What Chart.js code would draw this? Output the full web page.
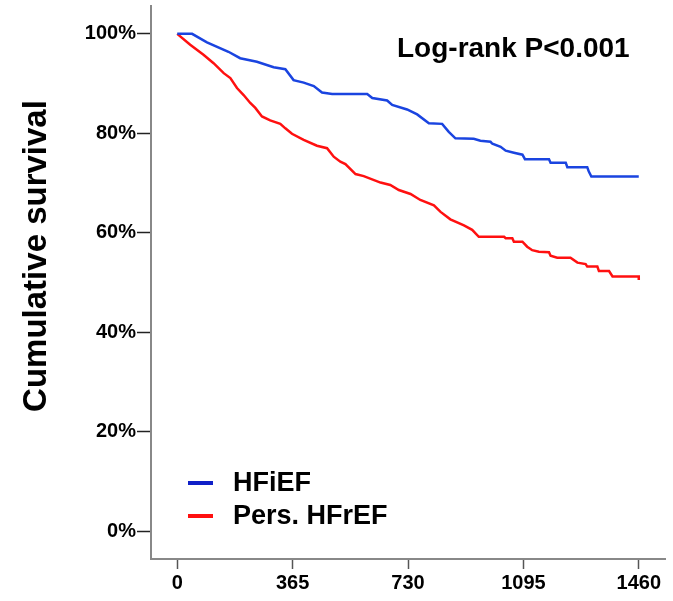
<!DOCTYPE html>
<html>
<head>
<meta charset="utf-8">
<script src="https://cdn.jsdelivr.net/npm/chart.js@4/dist/chart.umd.min.js"></script>
<style>
html,body{margin:0;padding:0;background:#fff;}
canvas{display:block;}
</style>
</head>
<body>
<canvas id="c" width="673" height="601"></canvas>
<script>
// ---- data ----
const seriesNames = ["HFiEF", "Pers. HFrEF"];
const xTicks = [0, 365, 730, 1095, 1460];
const yTicks = [0, 20, 40, 60, 80, 100];
const yTitle = "Cumulative survival";
const annotationText = "Log-rank P<0.001";

const hfiefDays = [0,47,94,162,199,252,305,342,368,400,432,458,490,601,617,664,680,727,759,796,838,859,880,938,959,991,997,1023,1039,1065,1092,1100,1176,1181,1229,1234,1297,1302,1310,1460];
const hfiefSurv = [100,100,98.3,96.4,95.1,94.4,93.3,92.9,90.7,90.2,89.5,88.2,87.9,87.9,87.1,86.6,85.7,84.8,83.8,82.0,81.9,80.3,79.0,78.9,78.5,78.3,77.9,77.3,76.5,76.1,75.7,74.8,74.8,74.1,74.1,73.2,73.2,72.3,71.3,71.3];

const hfrefDays = [0,41,83,115,147,168,189,210,231,247,268,294,326,342,363,400,442,474,495,516,532,564,590,643,674,701,738,769,812,833,864,907,933,954,1034,1039,1060,1065,1092,1107,1123,1144,1176,1181,1202,1244,1266,1292,1297,1329,1334,1366,1377,1460,1460];
const hfrefSurv = [100,97.8,95.8,94.1,92.1,91.1,89.1,87.7,86.1,85.1,83.4,82.6,81.9,81.0,79.9,78.7,77.5,77.0,75.3,74.3,73.8,71.8,71.4,70.1,69.6,68.6,67.8,66.6,65.5,64.2,62.7,61.5,60.6,59.2,59.2,58.9,58.9,58.2,58.2,57.2,56.5,56.2,56.1,55.4,55.0,55.0,54.0,53.7,53.2,53.2,52.3,52.3,51.2,51.2,50.5];

const BLUE = '#1a44e0';
const RED = '#ff1010';
const FONT = '"Liberation Sans", Arial, sans-serif';

function pts(xs, ys){ return xs.map((x,i)=>({x:x, y:ys[i]})); }

const extraText = {
  id: 'extraText',
  afterDraw(chart){
    const ctx = chart.ctx;
    ctx.save();
    ctx.fillStyle = '#000';
    // y title
    ctx.font = 'bold 33px ' + FONT;
    ctx.translate(37, 256);
    ctx.rotate(-Math.PI/2);
    ctx.textAlign = 'center';
    ctx.textBaseline = 'middle';
    ctx.fillText(yTitle, 0, 0);
    ctx.restore();

    ctx.save();
    ctx.fillStyle = '#000';
    ctx.font = 'bold 28px ' + FONT;
    ctx.textAlign = 'left';
    ctx.textBaseline = 'alphabetic';
    ctx.fillText(annotationText, 397, 57);

    // legend
    const items = [
      {name: seriesNames[0], color: '#1020c8', y: 483},
      {name: seriesNames[1], color: RED, y: 516}
    ];
    ctx.font = 'bold 27px ' + FONT;
    items.forEach(it=>{
      ctx.strokeStyle = it.color;
      ctx.lineWidth = 4;
      ctx.beginPath();
      ctx.moveTo(188, it.y);
      ctx.lineTo(213, it.y);
      ctx.stroke();
      ctx.fillStyle = '#000';
      ctx.textBaseline = 'middle';
      ctx.fillText(it.name, 233, it.y + 1);
    });
    ctx.restore();
  }
};

new Chart(document.getElementById('c'), {
  type: 'line',
  data: {
    datasets: [
      {label: seriesNames[0], data: pts(hfiefDays, hfiefSurv), borderColor: BLUE, borderWidth: 2.5, pointRadius: 0, tension: 0, fill: false},
      {label: seriesNames[1], data: pts(hfrefDays, hfrefSurv), borderColor: RED, borderWidth: 2.5, pointRadius: 0, tension: 0, fill: false}
    ]
  },
  options: {
    responsive: false,
    animation: false,
    devicePixelRatio: 1,
    layout: {padding: {left: 0, top: 6, right: 8, bottom: 0}},
    plugins: {legend: {display: false}, tooltip: {enabled: false}},
    scales: {
      x: {
        type: 'linear',
        min: -83, max: 1543,
        afterFit: s => { s.height = 42; s.paddingLeft = 0; s.paddingRight = 0; },
        afterBuildTicks: s => { s.ticks = xTicks.map(v=>({value:v})); },
        grid: {drawOnChartArea: false, drawTicks: true, tickLength: 10, tickColor: '#555', tickWidth: 1.5},
        border: {display: true, color: '#888', width: 2},
        ticks: {color: '#000', font: {family: FONT, size: 20, weight: 'bold'}, padding: 2, maxRotation: 0, autoSkip: false, callback: v => String(v)}
      },
      y: {
        type: 'linear',
        min: -5.6, max: 105.6,
        afterFit: s => { s.width = 151; s.paddingTop = 0; s.paddingBottom = 0; },
        afterBuildTicks: s => { s.ticks = yTicks.map(v=>({value:v})); },
        grid: {drawOnChartArea: false, drawTicks: true, tickLength: 14, tickColor: '#222', tickWidth: 1.5},
        border: {display: true, color: '#888', width: 2},
        ticks: {color: '#000', font: {family: FONT, size: 20, weight: 'bold'}, padding: 1, callback: v => v + '%', autoSkip: false}
      }
    }
  },
  plugins: [extraText]
});
</script>
</body>
</html>
